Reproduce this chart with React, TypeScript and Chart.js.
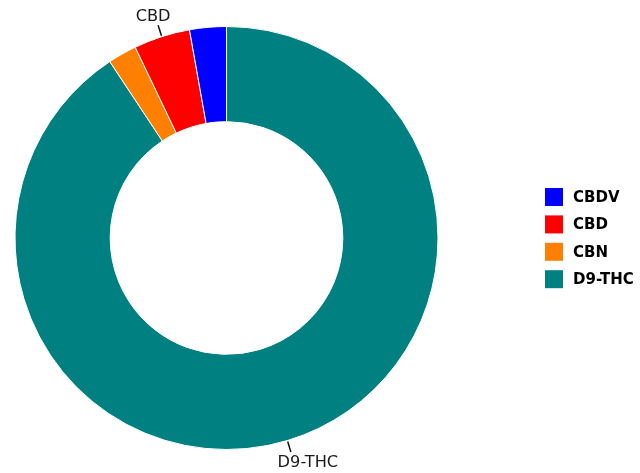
import React, { useEffect, useRef } from "react";
import { Chart, registerables } from "chart.js";

Chart.register(...registerables);

// Legend order (top to bottom)
const labels = ["CBDV", "CBD", "CBN", "D9-THC"];
const values = [2.8, 4.3, 2.2, 90.7];
const colors = ["#0000ff", "#ff0000", "#ff8000", "#008080"];
// Labels drawn outside the ring
const outsideLabels = ["CBD", "D9-THC"];

const labelOffsets: Record<string, { dx: number; dy: number }> = {
  CBD: { dx: -5, dy: -8 },
  "D9-THC": { dx: 17, dy: 11 },
};

const outsideLabelPlugin = {
  id: "outsideLabels",
  afterDatasetsDraw(chart: any) {
    const ctx = chart.ctx;
    const meta = chart.getDatasetMeta(0);
    const lbls = chart.data.labels as string[];
    ctx.save();
    meta.data.forEach((arc: any, i: number) => {
      const name = lbls[i];
      if (!outsideLabels.includes(name)) return;
      const { x, y, startAngle, endAngle, outerRadius } = arc.getProps(
        ["x", "y", "startAngle", "endAngle", "outerRadius"],
        true
      );
      const mid = (startAngle + endAngle) / 2;
      const x1 = x + Math.cos(mid) * (outerRadius + 1);
      const y1 = y + Math.sin(mid) * (outerRadius + 1);
      const x2 = x + Math.cos(mid) * (outerRadius + 12);
      const y2 = y + Math.sin(mid) * (outerRadius + 12);
      ctx.strokeStyle = "#111";
      ctx.lineWidth = 1.5;
      ctx.beginPath();
      ctx.moveTo(x1, y1);
      ctx.lineTo(x2, y2);
      ctx.stroke();
      const off = labelOffsets[name] || { dx: 0, dy: 0 };
      ctx.save();
      ctx.translate(x2 + off.dx, y2 + off.dy);
      ctx.scale(1.08, 1);
      ctx.fillStyle = "#1a1a1a";
      ctx.font = "15px 'DejaVu Sans'";
      ctx.textAlign = "center";
      ctx.textBaseline = "middle";
      ctx.fillText(name, 0, 0);
      ctx.restore();
    });
    ctx.restore();
  },
};

const customLegendPlugin = {
  id: "customLegend",
  afterDraw(chart: any) {
    const ctx = chart.ctx;
    ctx.save();
    const x0 = 545;
    const y0 = 197;
    const step = 27.4;
    labels.forEach((name, i) => {
      const cy = y0 + i * step;
      ctx.fillStyle = colors[i];
      ctx.fillRect(x0, cy - 9, 18, 18);
      ctx.fillStyle = "#000";
      ctx.font = "bold 15px 'DejaVu Sans'";
      ctx.textAlign = "left";
      ctx.textBaseline = "middle";
      ctx.fillText(name, x0 + 28, cy + 1);
    });
    ctx.restore();
  },
};

export default function App() {
  const canvasRef = useRef<HTMLCanvasElement | null>(null);

  useEffect(() => {
    document.body.style.margin = "0";
    if (!canvasRef.current) return;
    // Dataset drawn clockwise from top; reversed so that the legend order runs counter-clockwise
    const dataLabels = [...labels].reverse();
    const dataValues = [...values].reverse();
    const dataColors = [...colors].reverse();
    const chart = new Chart(canvasRef.current, {
      type: "doughnut",
      data: {
        labels: dataLabels,
        datasets: [
          {
            data: dataValues,
            backgroundColor: dataColors,
            borderColor: "#ffffff",
            borderWidth: 1,
          },
        ],
      },
      options: {
        animation: false,
        responsive: false,
        maintainAspectRatio: false,
        cutout: "55%",
        radius: 211.5,
        rotation: 0,
        layout: {
          padding: { left: 15, right: 202, top: 26.5, bottom: 23.5 },
        },
        plugins: {
          legend: { display: false },
          tooltip: { enabled: false },
        },
      },
      plugins: [outsideLabelPlugin, customLegendPlugin],
    });
    return () => chart.destroy();
  }, []);

  return (
    <div style={{ width: 640, height: 473 }}>
      <canvas ref={canvasRef} width={640} height={473} />
    </div>
  );
}
